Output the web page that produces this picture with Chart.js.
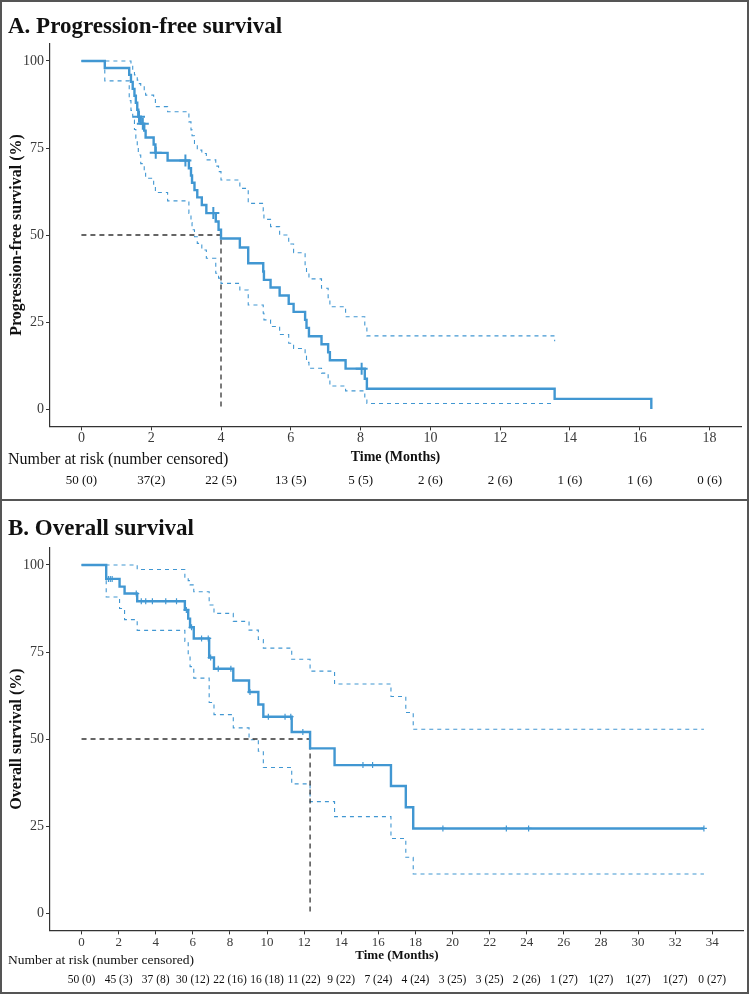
<!DOCTYPE html>
<html>
<head>
<meta charset="utf-8">
<script src="https://cdn.jsdelivr.net/npm/chart.js@4.4.0/dist/chart.umd.min.js"></script>
<style>
  body { margin: 0; background: #fff; }
  .panel { position: absolute; left: 0; width: 749px; }
  #panelA { top: 0; height: 500px; }
  #panelB { top: 500px; height: 494px; }
  #frame { position: absolute; left: 0; top: 0; width: 749px; height: 994px; box-sizing: border-box; border: 2px solid #555; }
  #sep { position: absolute; left: 0; top: 499px; width: 749px; height: 2px; background: #555; }
</style>
</head>
<body>
<div class="panel" id="panelA"><canvas id="pfs" width="749" height="500"></canvas></div>
<div class="panel" id="panelB"><canvas id="os" width="749" height="494"></canvas></div>
<div id="frame"></div>
<div id="sep"></div>
<script>
// ---- A. Progression-free survival (months, % surviving) ----
const pfsTime  = [0, 0.67, 1.37, 1.42, 1.47, 1.52, 1.56, 1.60, 1.63, 1.70, 1.80, 1.84, 2.07, 2.12, 2.47, 3.08, 3.14, 3.17, 3.24, 3.32, 3.45, 3.58, 3.85, 3.93, 4.00, 4.54, 4.78, 5.21, 5.23, 5.42, 5.68, 5.94, 6.08, 6.41, 6.45, 6.52, 6.88, 7.07, 7.12, 7.57, 8.12, 8.18, 13.56, 16.33];
const pfsSurv  = [100, 98, 96, 94, 92, 90, 88, 86, 84, 82, 80, 78, 76, 73.6, 71.4, 69.2, 67.1, 65.0, 62.9, 60.8, 58.6, 56.3, 53.9, 51.5, 49.0, 46.4, 41.9, 39.5, 37.1, 34.9, 32.6, 30.2, 27.9, 25.6, 23.3, 20.9, 18.6, 16.3, 14.0, 11.6, 8.7, 5.8, 2.9, 0];
const pfsUpper = [100, 100, 100, 98.5, 96.9, 96.0, 95.2, 94.5, 93.5, 92.6, 91.5, 90.2, 89.3, 86.9, 85.4, 82.5, 80.2, 78.5, 76.3, 74.4, 73.4, 71.6, 69.8, 68.2, 65.8, 63.4, 59.1, 56.9, 54.5, 52.4, 50.0, 47.4, 44.9, 41.2, 39.3, 37.4, 34.7, 32.0, 29.4, 26.5, 23.5, 21.0, 19.5, null];
const pfsLower = [100, 94.3, 88.6, 85.8, 83.0, 80.3, 77.8, 75.4, 73.0, 70.5, 68.2, 66.3, 64.4, 62.2, 59.8, 56.2, 53.6, 51.5, 49.5, 47.6, 45.7, 43.3, 39.0, 37.6, 36.1, 34.2, 29.9, 27.5, 25.6, 23.7, 21.4, 18.9, 17.4, 15.2, 13.4, 11.7, 10.3, 8.3, 6.6, 5.2, 3.2, 1.6, 1.6, null];
const pfsCensorTime = [1.65, 1.76, 2.13, 2.98, 3.78, 8.03];
const pfsCensorSurv = [84, 82, 73.6, 71.4, 56.3, 11.6];
const pfsMedian = 4.0;
const pfsTicks = [0, 2, 4, 6, 8, 10, 12, 14, 16, 18];
const pfsRisk = ['50 (0)', '37(2)', '22 (5)', '13 (5)', '5 (5)', '2 (6)', '2 (6)', '1 (6)', '1 (6)', '0 (6)'];

// ---- B. Overall survival ----
const osTime  = [0, 1.33, 2.05, 2.32, 3.0, 5.57, 5.75, 5.85, 6.05, 6.88, 7.14, 8.18, 9.03, 9.53, 9.80, 11.33, 12.32, 13.64, 16.68, 17.48, 17.88, 33.55];
const osSurv  = [100, 96.0, 93.8, 91.8, 89.6, 87.1, 84.6, 82.1, 78.9, 73.4, 70.2, 66.8, 63.5, 59.9, 56.4, 52.0, 47.3, 42.5, 36.5, 30.4, 24.3, 24.3];
const osUpper = [100, 100, 100, 100, 98.7, 96.5, 95.5, 94.3, 92.3, 88.5, 86.1, 83.8, 81.3, 78.6, 76.1, 72.9, 69.5, 65.8, 62.2, 57.6, 52.8, 52.8];
const osLower = [100, 90.8, 87.5, 84.3, 81.2, 78.0, 74.5, 70.8, 67.5, 60.5, 57.0, 53.2, 49.8, 46.5, 41.8, 37.1, 32.0, 27.7, 21.4, 16.0, 11.2, 11.2];
const osCensorTime = [1.45, 1.55, 1.65, 2.95, 3.22, 3.46, 3.82, 4.54, 5.12, 5.65, 5.93, 6.47, 6.83, 6.96, 7.37, 8.05, 9.08, 10.07, 10.97, 11.28, 11.93, 15.17, 15.69, 19.48, 22.9, 24.1, 33.55];
const osCensorSurv = [96, 96, 96, 91.8, 89.6, 89.6, 89.6, 89.6, 89.6, 87.1, 82.1, 78.9, 78.9, 73.4, 70.2, 70.2, 63.5, 56.4, 56.4, 56.4, 52.0, 42.5, 42.5, 24.3, 24.3, 24.3, 24.3];
const osMedian = 12.32;
const osTicks = [0, 2, 4, 6, 8, 10, 12, 14, 16, 18, 20, 22, 24, 26, 28, 30, 32, 34];
const osRisk = ['50 (0)', '45 (3)', '37 (8)', '30 (12)', '22 (16)', '16 (18)', '11 (22)', '9 (22)', '7 (24)', '4 (24)', '3 (25)', '3 (25)', '2 (26)', '1 (27)', '1(27)', '1(27)', '1(27)', '0 (27)'];

const yTicks = [0, 25, 50, 75, 100];

const BLUE = '#4197d2';
const SERIF = '"Liberation Serif", "Times New Roman", serif';
Chart.defaults.font.family = SERIF;
Chart.defaults.color = '#3a3a3a';

// pair up times and values, dropping the missing ones
function pts(t, v) {
    return t.map((x, i) => ({ x: x, y: v[i] })).filter(p => p.y !== null && p.y !== undefined);
}

// titles, x title and the number-at-risk row
const panelText = {
    id: 'panelText',
    afterDraw(chart, args, o) {
        const { ctx, chartArea } = chart;
        const xs = chart.scales.x;
        ctx.save();
        ctx.fillStyle = '#111';
        ctx.textAlign = 'left';
        ctx.textBaseline = 'alphabetic';
        ctx.font = `bold ${o.titleSize}px ${SERIF}`;
        ctx.fillText(o.title, 8, o.titleY);

        ctx.textBaseline = 'middle';
        ctx.textAlign = 'center';
        ctx.font = `bold ${o.xTitleSize}px ${SERIF}`;
        ctx.fillText('Time (Months)', (chartArea.left + chartArea.right) / 2, chartArea.bottom + o.xTitleGap);

        ctx.textAlign = 'left';
        ctx.font = `${o.narSize}px ${SERIF}`;
        ctx.fillText('Number at risk (number censored)', 8, chartArea.bottom + o.narGap);

        ctx.textAlign = 'center';
        ctx.font = `${o.numSize}px ${SERIF}`;
        o.ticks.forEach((v, i) => {
            ctx.fillText(o.risk[i], xs.getPixelForValue(v), chartArea.bottom + o.numGap);
        });
        ctx.restore();
    }
};

function buildChart(id, p) {
    return new Chart(document.getElementById(id), {
        type: 'line',
        data: {
            datasets: [
                {
                    data: pts(p.censT, p.censS),
                    showLine: false,
                    pointStyle: 'cross',
                    pointRadius: p.markR,
                    pointBorderWidth: p.markW,
                    pointBorderColor: BLUE,
                    pointBackgroundColor: BLUE
                },
                {
                    data: pts(p.time, p.surv),
                    stepped: 'before',
                    borderColor: BLUE,
                    borderWidth: 2.4,
                    pointRadius: 0
                },
                {
                    data: [{ x: 0, y: 50 }, { x: p.median, y: 50 }, { x: p.median, y: 0 }],
                    borderColor: '#333',
                    borderWidth: 1.3,
                    borderDash: [5, 4],
                    pointRadius: 0
                },
                {
                    data: pts(p.time, p.upper),
                    stepped: 'before',
                    borderColor: BLUE,
                    borderWidth: 1.1,
                    borderDash: [4, 4],
                    pointRadius: 0
                },
                {
                    data: pts(p.time, p.lower),
                    stepped: 'before',
                    borderColor: BLUE,
                    borderWidth: 1.1,
                    borderDash: [4, 4],
                    pointRadius: 0
                }
            ]
        },
        options: {
            responsive: false,
            animation: false,
            layout: { padding: { top: p.top, right: p.right, left: 0, bottom: 0 } },
            plugins: {
                legend: { display: false },
                tooltip: { enabled: false },
                panelText: {
                    title: p.title, titleY: p.titleY, titleSize: 23,
                    xTitleSize: p.xTitleSize, xTitleGap: p.xTitleGap,
                    narSize: p.narSize, narGap: p.narGap,
                    numSize: p.numSize, numGap: p.numGap,
                    ticks: p.ticks, risk: p.risk
                }
            },
            scales: {
                x: {
                    type: 'linear',
                    min: p.xMin,
                    max: p.xMax,
                    afterBuildTicks: s => { s.ticks = p.ticks.map(v => ({ value: v })); },
                    afterFit: s => { s.height = p.xAxisH; },
                    grid: { drawOnChartArea: false, drawTicks: true, tickLength: 4, color: '#333' },
                    border: { color: '#333', width: 1.2 },
                    ticks: { font: { size: p.xTickSize }, padding: 0, maxRotation: 0, color: '#3a3a3a' }
                },
                y: {
                    min: -5,
                    max: 105,
                    afterBuildTicks: s => { s.ticks = yTicks.map(v => ({ value: v })); },
                    afterFit: s => { s.width = 50; },
                    grid: { drawOnChartArea: false, drawTicks: true, tickLength: 4, color: '#333' },
                    border: { color: '#333', width: 1.2 },
                    ticks: { font: { size: 14 }, padding: 2, color: '#3a3a3a' },
                    title: {
                        display: true,
                        text: p.yTitle,
                        color: '#111',
                        font: { size: 16, weight: 'bold' },
                        padding: { top: 7, bottom: 0 }
                    }
                }
            }
        },
        plugins: [panelText]
    });
}

buildChart('pfs', {
    time: pfsTime, surv: pfsSurv, upper: pfsUpper, lower: pfsLower,
    censT: pfsCensorTime, censS: pfsCensorSurv, median: pfsMedian,
    ticks: pfsTicks, risk: pfsRisk, xMin: -0.9, xMax: 18.9,
    top: 43.6, right: 3, xAxisH: 73.6,
    title: 'A. Progression-free survival', titleY: 33,
    yTitle: 'Progression-free survival (%)',
    xTickSize: 14, xTitleSize: 14, xTitleGap: 30.6,
    narSize: 16, narGap: 33.6, numSize: 13, numGap: 54.6,
    markR: 6, markW: 2
});

buildChart('os', {
    time: osTime, surv: osSurv, upper: osUpper, lower: osLower,
    censT: osCensorTime, censS: osCensorSurv, median: osMedian,
    ticks: osTicks, risk: osRisk, xMin: -1.7, xMax: 35.7,
    top: 47.6, right: 4, xAxisH: 63.6,
    title: 'B. Overall survival', titleY: 35,
    yTitle: 'Overall survival (%)',
    xTickSize: 13, xTitleSize: 13, xTitleGap: 25.6,
    narSize: 13.5, narGap: 29.6, numSize: 11.5, numGap: 49.6,
    markR: 3, markW: 1.2
});
</script>
</body>
</html>
